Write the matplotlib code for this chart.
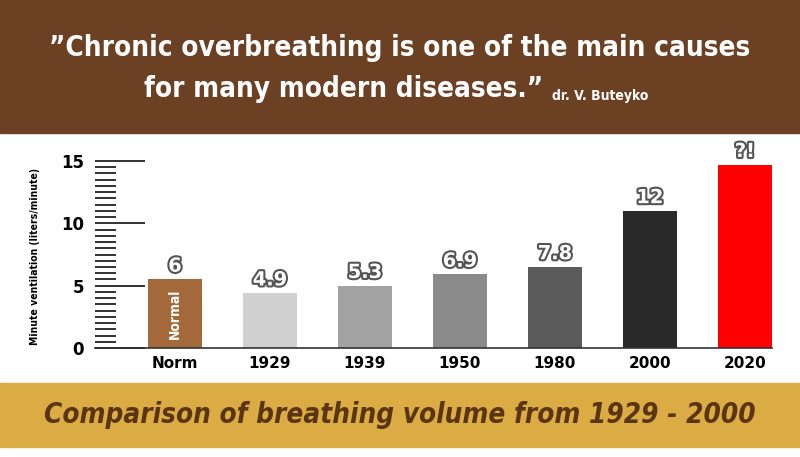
import matplotlib.pyplot as plt
import matplotlib.patheffects as pe
from matplotlib.patches import Rectangle
from matplotlib.ticker import MultipleLocator

categories = ['Norm', '1929', '1939', '1950', '1980', '2000', '2020']
bar_heights = [5.5, 4.4, 5.0, 5.9, 6.5, 11.0, 14.7]
bar_labels = ['6', '4.9', '5.3', '6.9', '7.8', '12', '?!']
bar_colors = ['#a3693a', '#d0d0d0', '#a2a2a2', '#8b8b8b', '#5b5b5b', '#292929', '#ff0000']

NARROW = dict(family='DejaVu Sans', fontstretch='condensed', fontweight='bold')


def main():
    fig = plt.figure(figsize=(8, 4.57), dpi=100)
    fig.patches.append(Rectangle((0, 0.709), 1, 0.291, transform=fig.transFigure,
                                 color='#6b4023', zorder=0))
    fig.patches.append(Rectangle((0, 0.022), 1, 0.140, transform=fig.transFigure,
                                 color='#dbac44', zorder=0))

    fig.text(0.5, 0.895, '\u201dChronic overbreathing is one of the main causes',
             ha='center', va='center', color='white', fontsize=20, **NARROW)
    fig.text(0.18, 0.805, 'for many modern diseases.\u201d', ha='left', va='center',
             color='white', fontsize=20, **NARROW)
    fig.text(0.69, 0.79, 'dr. V. Buteyko', ha='left', va='center', color='white',
             fontsize=10, **NARROW)
    fig.text(0.5, 0.092, 'Comparison of breathing volume from 1929 - 2000',
             ha='center', va='center', color='#5b3412', fontsize=20,
             fontstyle='italic', **NARROW)

    ax = fig.add_axes([0.119, 0.2385, 0.846, 0.4092])
    x = range(len(categories))
    ax.bar(x, bar_heights, width=0.57, color=bar_colors, zorder=2)
    ax.set_xlim(-0.84, 6.285)
    ax.set_ylim(0, 15)

    for xi, h, lab in zip(x, bar_heights, bar_labels):
        ax.text(xi, h + 0.3, lab, ha='center', va='bottom', fontsize=14,
                fontweight='bold', color='white', clip_on=False,
                path_effects=[pe.withStroke(linewidth=3, foreground='#555555')])

    ax.text(0, bar_heights[0] / 2, 'Normal', rotation=90, ha='center',
            va='center', color='white', fontsize=10, **NARROW)

    for s in ['top', 'right', 'left']:
        ax.spines[s].set_visible(False)
    ax.spines['bottom'].set_color('#333333')
    ax.spines['bottom'].set_linewidth(1.2)

    ax.yaxis.set_major_locator(MultipleLocator(5))
    ax.yaxis.set_minor_locator(MultipleLocator(0.5))
    ax.tick_params(axis='y', which='major', direction='in', length=36, width=1.3,
                   color='#222222', labelsize=12, pad=8)
    ax.tick_params(axis='y', which='minor', direction='in', length=15, width=1.3,
                   color='#222222')
    for t in ax.get_yticklabels():
        t.set_fontweight('bold')

    ax.set_xticks(list(x))
    ax.set_xticklabels(categories, fontweight='bold', fontsize=11)
    ax.tick_params(axis='x', length=0, pad=6)

    ax.set_ylabel('Minute ventilation (liters/minute)', fontsize=7.5, **NARROW)
    ax.yaxis.set_label_coords(-0.081, 0.49)

    fig.savefig('out.png', dpi=100)


if __name__ == '__main__':
    main()
